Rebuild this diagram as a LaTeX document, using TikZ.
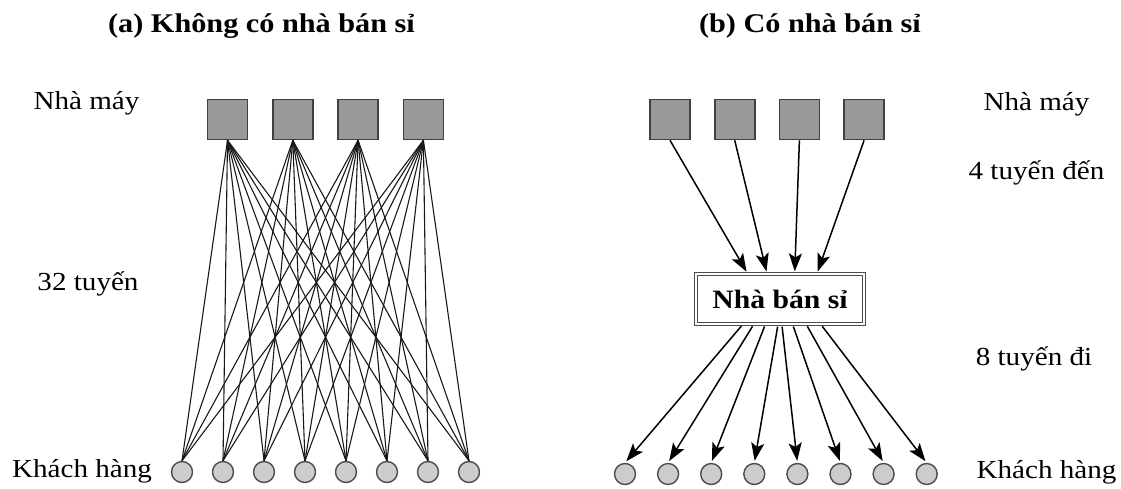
\documentclass[tikz,border=0pt]{standalone}
\usepackage{fontspec}
\setmainfont{Liberation Serif}[FakeStretch=1.12]
\usetikzlibrary{arrows.meta,calc}
\begin{document}
\begin{tikzpicture}[x=1pt,y=-1pt,
  factory/.style={draw=black!75, line width=1.6pt, fill=black!40, minimum size=40pt, inner sep=0pt},
  cust/.style={circle, draw=black!70, line width=1.4pt, fill=black!20, minimum size=21pt, inner sep=0pt},
  lbl/.style={font=\fontsize{26}{30}\selectfont, anchor=base, inner sep=0pt},
  ttl/.style={font=\fontsize{27}{30}\selectfont\bfseries, anchor=base, inner sep=0pt},
  route/.style={line width=1.1pt, draw=black!90},
  flow/.style={line width=1.5pt, draw=black, -{Stealth[length=18pt,width=13pt,inset=4pt]}},
  wsbox/.style={draw=black!70, double, double distance=2.5pt, line width=1.2pt, minimum width=168pt, minimum height=50pt, inner sep=0pt, font=\fontsize{26.5}{30}\selectfont\bfseries}
]
\useasboundingbox (0,0) rectangle (1121,489);

% titles
\node[ttl] (ta) at (261.5,33) {(a) Không có nhà bán sỉ};
\node[ttl] (tb) at (810,33) {(b) Có nhà bán sỉ};

% left labels
\node[lbl] (la1) at (86.5,110) {Nhà máy};
\node[lbl] (la2) at (88,290) {32 tuyến};
\node[lbl] (la3) at (82,477) {Khách hàng};

% right labels
\node[lbl] (lb1) at (1036.5,111) {Nhà máy};
\node[lbl] (lb2) at (1036.5,180) {4 tuyến đến};
\node[lbl] (lb3) at (1034,365) {8 tuyến đi};
\node[lbl] (lb4) at (1046.5,478) {Khách hàng};

% panel (a)
\foreach \i in {1,...,4} {
  \node[factory] (fa\i) at ({227.5+65.3*(\i-1)},119.5) {};
}
\foreach \j in {1,...,8} {
  \node[cust] (ca\j) at ({182+41*(\j-1)},472) {};
}
\foreach \i in {1,...,4} {
  \foreach \j in {1,...,8} {
    \draw[route] (fa\i.south) -- (ca\j.north);
  }
}

% panel (b)
\foreach \i in {1,...,4} {
  \node[factory] (fb\i) at ({670+64.7*(\i-1)},119.5) {};
}
\foreach \j in {1,...,8} {
  \node[cust] (cb\j) at ({625+43.1*(\j-1)},474) {};
}
\node[wsbox] (ws) at (780,299) {Nhà bán sỉ};

\foreach \i/\f in {1/0.308,2/0.423,3/0.587,4/0.719} {
  \coordinate (in\i) at ($(ws.north west)!\f!(ws.north east)$);
  \draw[flow, shorten >=2pt] (fb\i.south) -- (in\i);
}
\foreach \j/\f in {1/0.279,2/0.344,3/0.413,4/0.488,5/0.511,6/0.575,7/0.656,8/0.742} {
  \coordinate (out\j) at ($(ws.south west)!\f!(ws.south east)$);
  \draw[flow, shorten <=2pt, shorten >=2pt] (out\j) -- (cb\j.north);
}
\end{tikzpicture}
\end{document}
